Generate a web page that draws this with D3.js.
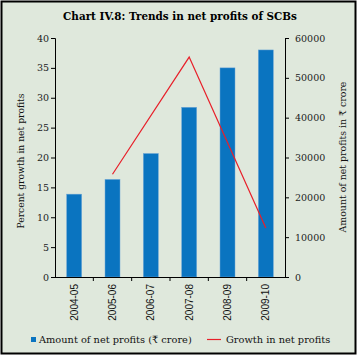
<!DOCTYPE html>
<html><head><meta charset="utf-8">
<script src="https://cdn.jsdelivr.net/npm/d3@7"></script>
<style>body{margin:0;background:#fff}svg{display:block}</style>
</head><body>
<svg id="c" width="359" height="357"></svg>
<script>
const categories = ["2004-05","2005-06","2006-07","2007-08","2008-09","2009-10"];
const profits = [20800, 24500, 31000, 42600, 52500, 57000];
const growth = [null, 17.2, null, 36.8, null, 8.2];
const leftTicks = [0,5,10,15,20,25,30,35,40];
const rightTicks = [0,10000,20000,30000,40000,50000,60000];

const svg = d3.select("#c");
const W = 359, H = 357;
svg.append("rect").attr("x",0).attr("y",0).attr("width",W).attr("height",H).attr("fill","#fff");
svg.append("rect").attr("x",1.5).attr("y",1.5).attr("width",354).attr("height",352)
  .attr("fill","#dfe8dc").attr("stroke","#000").attr("stroke-width",2);

const serif = "'DejaVu Serif', 'Liberation Serif', serif";
const L = 55, R = 285, T = 38, B = 277;
const xb = d3.scaleBand().domain(categories).range([L,R]);
const yL = d3.scaleLinear().domain([0,40]).range([B,T]);
const yR = d3.scaleLinear().domain([0,60000]).range([B,T]);

svg.append("text").attr("x",180).attr("y",20).attr("text-anchor","middle")
  .attr("font-family",serif).attr("font-weight","bold").attr("font-size",10.4)
  .text("Chart IV.8: Trends in net profits of SCBs");

// bars
svg.append("g").selectAll("rect").data(categories).join("rect")
  .attr("x", d => xb(d) + xb.bandwidth()/2 - 7.5)
  .attr("width", 15)
  .attr("y", (d,i) => yR(profits[i]))
  .attr("height", (d,i) => B - yR(profits[i]))
  .attr("fill","#0a74c0").attr("stroke","#6fa6d6").attr("stroke-width",0.5);

// line
const pts = categories.map((c,i)=>({c, v:growth[i]})).filter(d=>d.v!==null);
svg.append("path").datum(pts)
  .attr("d", d3.line().x(d=>xb(d.c)+xb.bandwidth()/2).y(d=>yL(d.v)))
  .attr("fill","none").attr("stroke","#e8202a").attr("stroke-width",1.2);

// axes
const gl = svg.append("g").attr("transform",`translate(${L},0)`)
  .call(d3.axisLeft(yL).tickValues(leftTicks).tickSize(4).tickPadding(2));
const gr = svg.append("g").attr("transform",`translate(${R},0)`)
  .call(d3.axisRight(yR).tickValues(rightTicks).tickFormat(d3.format("d")).tickSize(4).tickPadding(6));
[gl,gr].forEach(g=>{
  g.select(".domain").attr("stroke","#000");
  g.selectAll(".tick line").attr("stroke","#000");
  g.selectAll("text").attr("font-family",serif).attr("font-size",9.5).attr("fill","#222");
});
// bottom axis line + boundary ticks
svg.append("line").attr("x1",L).attr("x2",R).attr("y1",B+0.5).attr("y2",B+0.5).attr("stroke","#000");
svg.append("g").selectAll("line").data(categories.slice(1)).join("line")
  .attr("x1",d=>xb(d)).attr("x2",d=>xb(d)).attr("y1",B).attr("y2",B+4).attr("stroke","#000");
svg.append("g").selectAll("text").data(categories).join("text")
  .attr("transform", d=>`translate(${xb(d)+xb.bandwidth()/2+3.5},${B+7}) rotate(-90)`)
  .attr("text-anchor","end").attr("font-family","'Liberation Sans', Arial, sans-serif")
  .attr("font-size",10).attr("fill","#111").text(d=>d);

// axis titles
svg.append("text").attr("transform","translate(24,161) rotate(-90)").attr("text-anchor","middle")
  .attr("font-family",serif).attr("font-size",9.2).attr("fill","#111").text("Percent growth in net profits");
svg.append("text").attr("transform","translate(346,157) rotate(-90)").attr("text-anchor","middle")
  .attr("font-family",serif).attr("font-size",9.4).attr("fill","#111").text("Amount of net profits in ₹ crore");

// legend
svg.append("rect").attr("x",31).attr("y",337).attr("width",5).attr("height",5).attr("fill","#0a74c0");
svg.append("text").attr("x",39).attr("y",343).attr("font-family",serif).attr("font-size",9.8).attr("fill","#111")
  .text("Amount of net profits (₹ crore)");
svg.append("line").attr("x1",207).attr("x2",221).attr("y1",339.5).attr("y2",339.5).attr("stroke","#e8202a").attr("stroke-width",1.2);
svg.append("text").attr("x",226).attr("y",343).attr("font-family",serif).attr("font-size",9.8).attr("fill","#111")
  .text("Growth in net profits");
</script>
</body></html>
